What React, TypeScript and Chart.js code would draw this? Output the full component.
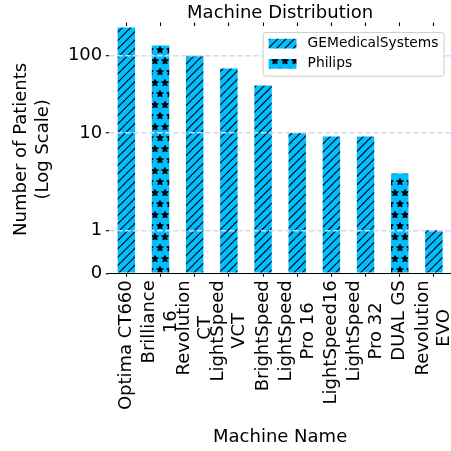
import React, { useEffect, useRef } from 'react';
import { Chart, registerables, LinearScale, CategoryScale } from 'chart.js';

// ---------------- data ----------------
const machineNames = [
  'Optima CT660',
  'Brilliance\n16',
  'Revolution\nCT',
  'LightSpeed\nVCT',
  'BrightSpeed',
  'LightSpeed\nPro 16',
  'LightSpeed16',
  'LightSpeed\nPro 32',
  'DUAL GS',
  'Revolution\nEVO',
];
const geValues = [231, null, 100, 68, 41, 10, 9, 9, null, 1];
const philipsValues = [null, 135, null, null, null, null, null, null, 3, null];
const seriesNames = ['GEMedicalSystems', 'Philips'];
const yTickValues = [0, 1, 10, 100];
const yMax = 245;
const chartTitle = 'Machine Distribution';
const xTitle = 'Machine Name';
const yTitle = ['Number of Patients', '(Log Scale)'];

// ---------------- symlog scale ----------------
const LINTHRESH = 2;
const LINSCALE_ADJ = 1 / (1 - 1 / 10);
function symlog(v: number) {
  const a = Math.abs(v);
  if (a <= LINTHRESH) return v * LINSCALE_ADJ;
  return Math.sign(v) * LINTHRESH * (LINSCALE_ADJ + Math.log10(a / LINTHRESH));
}
function invSymlog(t: number) {
  const a = Math.abs(t);
  if (a <= LINTHRESH * LINSCALE_ADJ) return t / LINSCALE_ADJ;
  return Math.sign(t) * LINTHRESH * Math.pow(10, a / LINTHRESH - LINSCALE_ADJ);
}

class SymlogScale extends (LinearScale as any) {
  static id = 'symlog';
  static defaults = (LinearScale as any).defaults;
  buildTicks() {
    return yTickValues.filter((v) => v >= this.min && v <= this.max).map((v) => ({ value: v }));
  }
  configure() {
    super.configure();
    this._tStart = symlog(this.min);
    this._tRange = symlog(this.max) - symlog(this.min);
  }
  getPixelForValue(value: any) {
    if (value === null || value === undefined || isNaN(value)) return NaN;
    return this.getPixelForDecimal((symlog(value) - this._tStart) / this._tRange);
  }
  getValueForPixel(pixel: number) {
    return invSymlog(this.getDecimalForPixel(pixel) * this._tRange + this._tStart);
  }
}

// category scale whose rotated multi-line labels are centred like matplotlib's
class CenteredCategoryScale extends (CategoryScale as any) {
  static id = 'centeredCategory';
  static defaults = (CategoryScale as any).defaults;
  _calculatePadding(first: any, last: any, sin: number, cos: number) {
    super._calculatePadding(first, last, sin, cos);
    this.paddingLeft = 0;
    this.paddingRight = 0;
  }
  _computeLabelItems(chartArea: any) {
    const items = super._computeLabelItems(chartArea);
    const ctx = this.ctx;
    for (const item of items) {
      const lines = Array.isArray(item.label) ? item.label : [item.label];
      ctx.save();
      ctx.font = item.font.string;
      const w = Math.max(...lines.map((l: any) => ctx.measureText(String(l)).width));
      ctx.restore();
      const lh = item.font.lineHeight;
      const [tx, ty] = item.options.translation;
      item.options.translation = [tx - ((lines.length - 1) * lh) / 2, ty + w / 2];
      item.options.textAlign = 'center';
    }
    return items;
  }
}

Chart.register(...registerables, SymlogScale as any, CenteredCategoryScale as any);
Chart.defaults.font.family = "'DejaVu Sans', sans-serif";
Chart.defaults.font.size = 18;
Chart.defaults.color = '#000';

const BAR_BLUE = '#00BFFF';

function makeHatch() {
  const c = document.createElement('canvas');
  c.width = 25;
  c.height = 25;
  const g = c.getContext('2d')!;
  g.fillStyle = BAR_BLUE;
  g.fillRect(0, 0, 25, 25);
  g.strokeStyle = '#000';
  g.lineWidth = 1.1;
  for (let k = 0; k <= 6; k++) {
    const cc = (k * 25) / 3;
    g.beginPath();
    g.moveTo(cc, 0);
    g.lineTo(cc - 25, 25);
    g.stroke();
  }
  return g.createPattern(c, 'repeat')!;
}

function drawStar(g: CanvasRenderingContext2D, cx: number, cy: number, R: number, r: number) {
  g.beginPath();
  for (let i = 0; i < 10; i++) {
    const rad = i % 2 === 0 ? R : r;
    const a = -Math.PI / 2 + (i * Math.PI) / 5;
    g.lineTo(cx + rad * Math.cos(a), cy + rad * Math.sin(a));
  }
  g.closePath();
  g.fill();
  g.stroke();
}

function makeStars() {
  const c = document.createElement('canvas');
  c.width = 10;
  c.height = 22;
  const g = c.getContext('2d')!;
  g.fillStyle = BAR_BLUE;
  g.fillRect(0, 0, 10, 22);
  g.fillStyle = '#000';
  g.strokeStyle = '#000';
  g.lineWidth = 0.9;
  g.lineJoin = 'miter';
  const pts = [
    [0, 6],
    [5, 17],
  ];
  for (const [x, y] of pts) {
    for (const dx of [-10, 0, 10]) {
      for (const dy of [-22, 0, 22]) {
        drawStar(g, x + dx, y + dy, 3.6, 1.7);
      }
    }
  }
  return g.createPattern(c, 'repeat')!;
}

const boxLegend = {
  id: 'boxLegend',
  afterDraw(chart: any) {
    const { ctx, chartArea } = chart;
    const fs = 13.9;
    const pad = 0.4 * fs;
    const handleLen = 2 * fs;
    const handleH = 0.7 * fs;
    const textPad = 0.8 * fs;
    const axPad = 0.5 * fs;
    const rowH = 20.2;
    ctx.save();
    ctx.font = `13.8px 'DejaVu Sans', sans-serif`;
    const items = chart.data.datasets.map((ds: any) => ({ label: ds.label, fill: ds.backgroundColor }));
    const textW = Math.max(...items.map((it: any) => ctx.measureText(it.label).width));
    const w = pad + handleLen + textPad + textW + pad;
    const h = 43.7;
    const x = chartArea.right - axPad - w;
    const y = chartArea.top + axPad;
    ctx.beginPath();
    ctx.roundRect(x, y, w, h, 2.8);
    ctx.fillStyle = 'rgba(255,255,255,0.8)';
    ctx.fill();
    ctx.strokeStyle = '#cccccc';
    ctx.lineWidth = 1;
    ctx.stroke();
    items.forEach((it: any, i: number) => {
      const cy = y + 11.2 + i * rowH;
      ctx.fillStyle = it.fill;
      ctx.fillRect(x + pad, cy - handleH / 2, handleLen, handleH);
      ctx.fillStyle = '#000';
      ctx.textBaseline = 'middle';
      ctx.textAlign = 'left';
      ctx.fillText(it.label, x + pad + handleLen + textPad, cy);
    });
    ctx.restore();
  },
};

export default function App() {
  const ref = useRef<HTMLCanvasElement>(null);
  useEffect(() => {
    const canvas = ref.current!;
    const gePattern = makeHatch();
    const phPattern = makeStars();
    const chart = new Chart(canvas, {
      type: 'bar',
      data: {
        labels: machineNames.map((n) => n.split('\n')),
        datasets: [
          {
            label: seriesNames[0],
            data: geValues,
            backgroundColor: gePattern,
            borderWidth: 0,
            grouped: false,
            barPercentage: 0.51,
            categoryPercentage: 1,
          },
          {
            label: seriesNames[1],
            data: philipsValues,
            backgroundColor: phPattern,
            borderWidth: 0,
            grouped: false,
            barPercentage: 0.51,
            categoryPercentage: 1,
          },
        ],
      } as any,
      options: {
        animation: false,
        responsive: false,
        events: [],
        layout: { padding: { left: 0, right: 0, top: 0, bottom: 0 } },
        plugins: {
          legend: { display: false },
          tooltip: { enabled: false },
          title: {
            display: true,
            text: chartTitle,
            fullSize: false,
            color: '#000',
            font: { size: 18, weight: 'normal', lineHeight: 1 },
            padding: { top: 4.5, bottom: 0 },
          },
        },
        scales: {
          x: {
            type: 'centeredCategory',
            position: 'bottom',
            offset: true,
            grid: {
              offset: false,
              drawOnChartArea: false,
              tickLength: 3.5,
              tickColor: '#000',
              tickWidth: 1.1,
            },
            border: { display: true, color: '#000', width: 1.1 },
            ticks: {
              minRotation: 90,
              maxRotation: 90,
              autoSkip: false,
              padding: 3.5,
              color: '#000',
              font: { size: 18 },
            },
            title: {
              display: true,
              text: xTitle,
              color: '#000',
              font: { size: 18 },
              padding: { top: 12.6, bottom: 3.2 },
            },
          },
          x2: {
            type: 'category',
            position: 'top',
            offset: true,
            grid: {
              offset: false,
              drawOnChartArea: false,
              tickLength: 3,
              tickColor: '#000',
              tickWidth: 1.1,
            },
            border: { display: false },
            ticks: { display: false },
          },
          y: {
            type: 'symlog',
            position: 'left',
            min: 0,
            max: yMax,
            grid: {
              color: (c: any) => (c.tick && c.tick.value === 0 ? 'rgba(0,0,0,0)' : '#d8d8f0'),
              lineWidth: 1.4,
              tickLength: 3.5,
              tickColor: '#000',
              tickWidth: 1.1,
              z: 1,
            },
            border: { display: false, dash: [5.5, 2.5] },
            ticks: {
              padding: 3.5,
              color: '#000',
              font: { size: 18 },
              callback: (v: any) => String(v),
            },
            title: {
              display: true,
              text: yTitle,
              color: '#000',
              font: { size: 18 },
              padding: { top: 10.7, bottom: 10.5 },
            },
          },
        },
      } as any,
      plugins: [boxLegend],
    });
    return () => chart.destroy();
  }, []);
  return (
    <div style={{ position: 'fixed', left: 0, top: 0, width: 451, height: 451, background: '#fff' }}>
      <canvas ref={ref} width={451} height={451} style={{ display: 'block' }} />
    </div>
  );
}
